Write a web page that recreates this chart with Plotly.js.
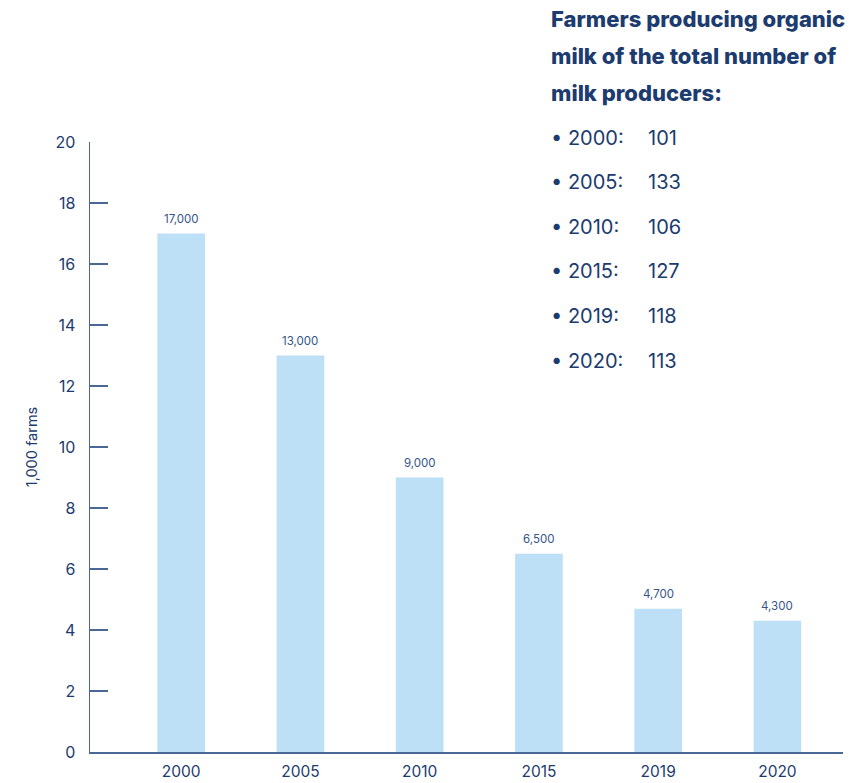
<!DOCTYPE html>
<html>
<head>
<meta charset="utf-8">
<script src="https://cdn.plot.ly/plotly-3.0.1.min.js"></script>
<style>
  html, body { margin: 0; padding: 0; background: #ffffff; }
  #chart { width: 849px; height: 783px; }
</style>
</head>
<body>
<div id="chart"></div>
<script>
// ---- data ----
const years = ["2000", "2005", "2010", "2015", "2019", "2020"];
const farmsThousands = [17, 13, 9, 6.5, 4.7, 4.3];
const barLabels = ["17,000", "13,000", "9,000", "6,500", "4,700", "4,300"];
const yTickVals = [0, 2, 4, 6, 8, 10, 12, 14, 16, 18, 20];
const yAxisTitle = "1,000 farms";

const sideTitleLines = ["Farmers producing organic", "milk of the total number of", "milk producers:"];
const organicYears = ["2000", "2005", "2010", "2015", "2019", "2020"];
const organicCounts = [101, 133, 106, 127, 118, 113];

// ---- styling ----
const NAVY = "#1c3b6e";
const AXIS = "#4a6896";
const BAR = "#bee0f7";
const FONT = "Inter, 'Open Sans', sans-serif";

// plot area in pixels: left 90, right 843, top 142, bottom 752
const L = 90, R = 843, T = 142, B = 752;
const px = x => (x - L) / (R - L);
const py = y => (B - y) / (B - T);

const annotations = [];

// bar value labels (x given as category index)
years.forEach((yr, i) => {
  annotations.push({
    x: i, y: farmsThousands[i], xref: "x", yref: "y",
    text: barLabels[i], showarrow: false,
    yanchor: "bottom", yshift: 6,
    font: { family: FONT, size: 11.5, color: "#34548a" }
  });
});

// side title
sideTitleLines.forEach((line, i) => {
  annotations.push({
    x: px(549), y: py(19 + i * 37), xref: "paper", yref: "paper",
    xanchor: "left", yanchor: "middle", showarrow: false,
    text: line,
    font: { family: FONT, size: 22, weight: 800, color: NAVY }
  });
});

// side bullet list
organicYears.forEach((yr, i) => {
  const yy = py(137.5 + i * 44.6);
  annotations.push({
    x: px(549), y: yy, xref: "paper", yref: "paper",
    xanchor: "left", yanchor: "middle", showarrow: false,
    text: "\u2022 " + yr + ":",
    font: { family: FONT, size: 20, color: NAVY }
  });
  annotations.push({
    x: px(646), y: yy, xref: "paper", yref: "paper",
    xanchor: "left", yanchor: "middle", showarrow: false,
    text: String(organicCounts[i]),
    font: { family: FONT, size: 20, color: NAVY }
  });
});

const trace = {
  type: "bar",
  x: years,
  y: farmsThousands,
  width: 0.4,
  marker: { color: BAR },
  hoverinfo: "x+y"
};

const layout = {
  width: 849, height: 783,
  margin: { l: L, r: 849 - R, t: T, b: 783 - B, pad: 0 },
  paper_bgcolor: "#ffffff",
  plot_bgcolor: "#ffffff",
  showlegend: false,
  font: { family: FONT, color: NAVY },
  xaxis: {
    type: "category",
    range: [-0.765, 5.55],
    showline: true, linecolor: AXIS, linewidth: 1.5,
    ticks: "", showgrid: false, zeroline: false,
    tickfont: { family: FONT, size: 15.5, color: NAVY },
    ticklabelstandoff: 5,
    fixedrange: true
  },
  yaxis: {
    range: [0, 20],
    tickvals: yTickVals,
    showline: true, linecolor: AXIS, linewidth: 1.5,
    ticks: "inside", ticklen: 18, tickwidth: 1.5, tickcolor: AXIS,
    showgrid: false, zeroline: false,
    tickfont: { family: FONT, size: 16, color: NAVY },
    ticklabelstandoff: 10,
    title: { text: yAxisTitle, font: { family: FONT, size: 14.5, color: NAVY }, standoff: 14 },
    fixedrange: true
  },
  annotations: annotations
};

Plotly.newPlot("chart", [trace], layout, { displayModeBar: false, staticPlot: true });
</script>
</body>
</html>
